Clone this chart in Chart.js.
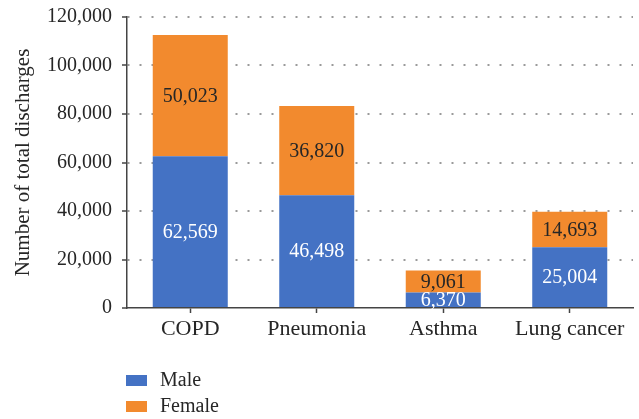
<!DOCTYPE html>
<html>
<head>
<meta charset="utf-8">
<script src="https://cdn.jsdelivr.net/npm/chart.js@4.4.1/dist/chart.umd.min.js"></script>
<style>
  html, body { margin: 0; padding: 0; background: #fff; }
  #wrap { width: 639px; height: 419px; position: relative; }
</style>
</head>
<body>
<div id="wrap"><canvas id="chart" width="639" height="419"></canvas></div>
<script>
// data
const categories = ['COPD', 'Pneumonia', 'Asthma', 'Lung cancer'];
const maleValues = [62569, 46498, 6370, 25004];
const femaleValues = [50023, 36820, 9061, 14693];
const yTicks = [0, 20000, 40000, 60000, 80000, 100000, 120000];

const FONT = "'Liberation Serif', 'DejaVu Serif', serif";
const TEXT = '#262626';

// value labels drawn in the middle of each segment
const segmentLabels = {
    id: 'segmentLabels',
    afterDatasetsDraw(chart) {
        const ctx = chart.ctx;
        ctx.save();
        ctx.font = `20px ${FONT}`;
        ctx.textAlign = 'center';
        ctx.textBaseline = 'middle';
        chart.data.datasets.forEach((ds, i) => {
            const meta = chart.getDatasetMeta(i);
            meta.data.forEach((bar, j) => {
                const p = bar.getProps(['x', 'y', 'base'], true);
                ctx.fillStyle = ds.labelColor;
                ctx.fillText(ds.data[j].toLocaleString('en-US'), p.x, (p.y + p.base) / 2 + 1);
            });
        });
        ctx.restore();
    }
};

// vertical legend at the lower left
const sideLegend = {
    id: 'sideLegend',
    afterDraw(chart) {
        const ctx = chart.ctx;
        ctx.save();
        ctx.font = `20px ${FONT}`;
        ctx.textBaseline = 'middle';
        chart.data.datasets.forEach((ds, i) => {
            const y = 380 + i * 26;
            ctx.fillStyle = ds.backgroundColor;
            ctx.fillRect(126, y - 5, 21, 11);
            ctx.fillStyle = TEXT;
            ctx.fillText(ds.label, 160, y + 1);
        });
        ctx.restore();
    }
};

const ctx = document.getElementById('chart').getContext('2d');
new Chart(ctx, {
    type: 'bar',
    data: {
        labels: categories,
        datasets: [
            {
                label: 'Male',
                data: maleValues,
                backgroundColor: '#4472C4',
                labelColor: '#ffffff',
                barPercentage: 0.593,
                categoryPercentage: 1.0
            },
            {
                label: 'Female',
                data: femaleValues,
                backgroundColor: '#F28A2E',
                labelColor: TEXT,
                barPercentage: 0.593,
                categoryPercentage: 1.0
            }
        ]
    },
    options: {
        responsive: false,
        animation: false,
        layout: { padding: { top: 17, right: 6, left: 0, bottom: 0 } },
        plugins: {
            legend: { display: false },
            tooltip: { enabled: false }
        },
        scales: {
            x: {
                stacked: true,
                afterFit(scale) { scale.height = 111; },
                grid: {
                    display: true,
                    drawOnChartArea: false,
                    drawTicks: true,
                    tickLength: 5,
                    tickWidth: 1.5,
                    color: '#444',
                    offset: false
                },
                border: { color: '#444', width: 1.5 },
                ticks: {
                    color: TEXT,
                    padding: 3,
                    font: { family: FONT, size: 22 }
                }
            },
            y: {
                stacked: true,
                min: 0,
                max: 120000,
                afterFit(scale) {
                    scale.width = 127;
                    // let layout.padding alone set the top of the plot
                    scale.paddingTop = 0;
                    scale.paddingBottom = 0;
                },
                afterBuildTicks(scale) {
                    scale.ticks = yTicks.map(v => ({ value: v }));
                },
                grid: {
                    color: c => c.tick && c.tick.value === 0 ? 'rgba(0,0,0,0)' : '#9a9a9a',
                    lineWidth: 2,
                    tickColor: '#444',
                    tickLength: 5,
                    tickWidth: 1.5,
                    drawTicks: true
                },
                // in v4 border.dash is what dashes the grid lines
                border: { color: '#444', width: 1.5, dash: [2, 10] },
                ticks: {
                    color: TEXT,
                    padding: 10,
                    font: { family: FONT, size: 20 },
                    callback: v => v.toLocaleString('en-US')
                },
                title: {
                    display: true,
                    text: 'Number of total discharges',
                    color: TEXT,
                    padding: { top: 11, bottom: 0 },
                    font: { family: FONT, size: 21 }
                }
            }
        }
    },
    plugins: [segmentLabels, sideLegend]
});
</script>
</body>
</html>
